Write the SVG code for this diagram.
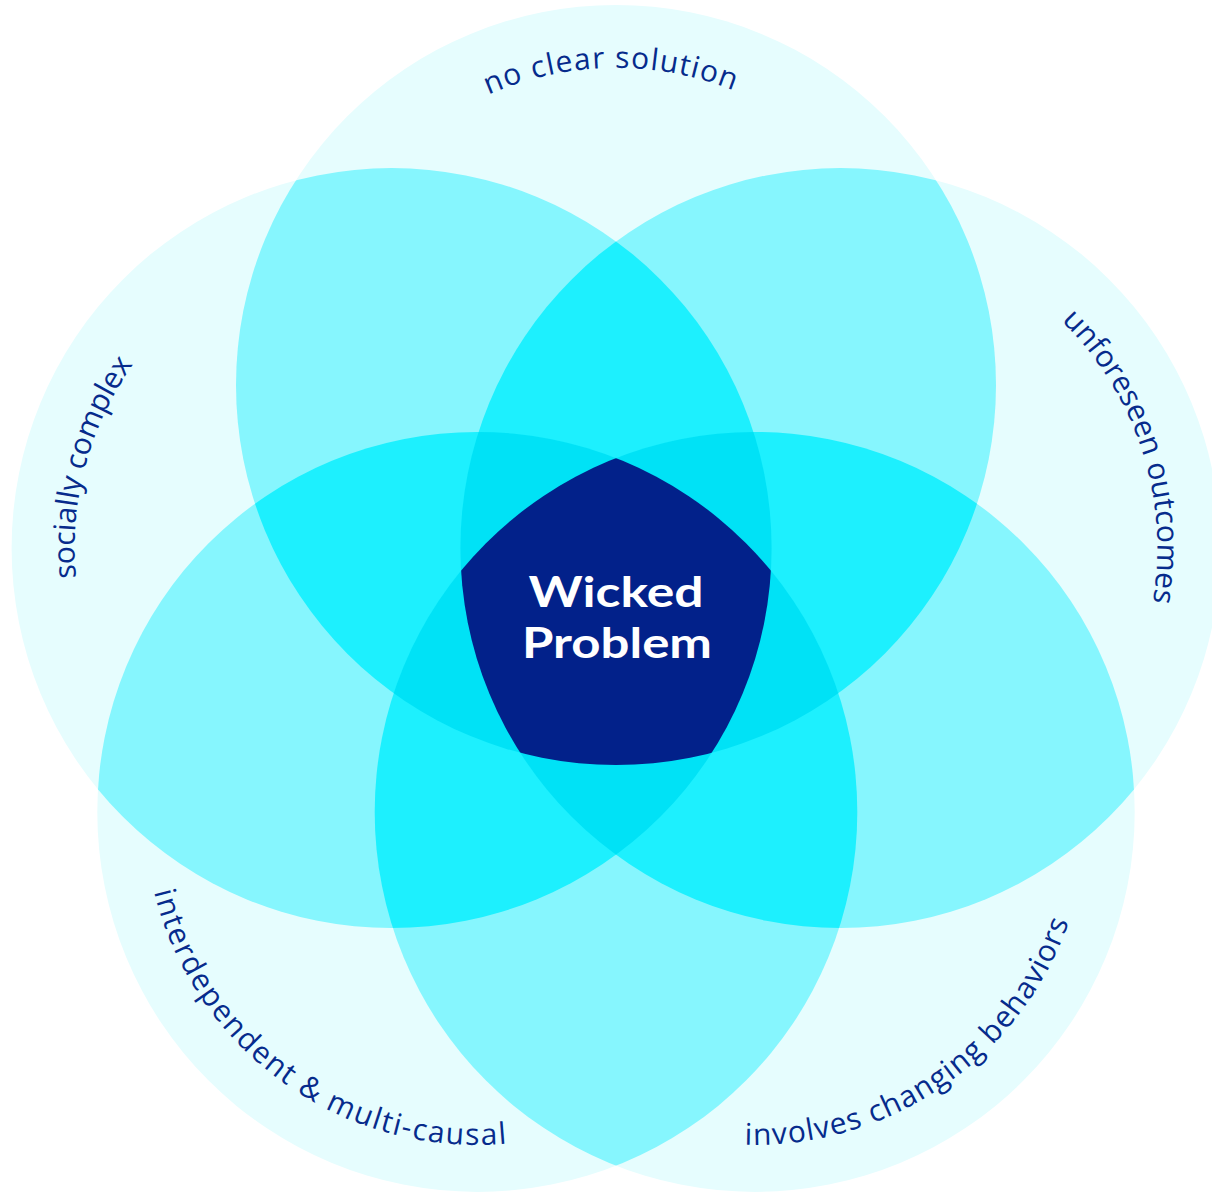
<svg xmlns="http://www.w3.org/2000/svg" width="1212" height="1192" viewBox="0 0 1212 1192">
<style>
.l1{fill:#e6fdfe}
.l2{fill:#86f6fe}
.l3{fill:#1df0fe}
.l4{fill:#00e2f6}
.l5{fill:#02218a}
.lbl{font-family:"Open Sans","Noto Sans","DejaVu Sans",sans-serif;font-size:30px;fill:#062b8c}
.ctr{font-family:Lato,"Open Sans","DejaVu Sans",sans-serif;font-size:42px;font-weight:700;fill:#ffffff;text-anchor:middle}
</style>
<defs>
<clipPath id="c0"><circle cx="616" cy="385" r="380"/></clipPath>
<clipPath id="c1"><circle cx="391.6" cy="548.1" r="380"/></clipPath>
<clipPath id="c2"><circle cx="840.4" cy="548.1" r="380"/></clipPath>
<clipPath id="c3"><circle cx="477.3" cy="811.9" r="380"/></clipPath>
<clipPath id="c4"><circle cx="754.7" cy="811.9" r="380"/></clipPath>
<path id="p0" d="M302.9,335.4 A317,317 0 0 1 927.2,324.5"/>
<path id="p1" d="M257.6,835.4 A317,317 0 0 1 419.2,232.3"/>
<path id="p2" d="M796.3,234.2 A317,317 0 0 1 989.2,828.0"/>
<path id="p3" d="M176.7,668.5 A333,333 0 0 0 710.7,1049.4"/>
<path id="p4" d="M517.2,1045.3 A333,333 0 0 0 1057.7,673.8"/>
</defs>
<rect width="1212" height="1192" fill="#ffffff"/>

<g id="circle-no-clear-solution"><circle class="l1" cx="616" cy="385" r="380"/></g>
<g id="circle-socially-complex"><circle class="l1" cx="391.6" cy="548.1" r="380"/></g>
<g id="circle-unforeseen-outcomes"><circle class="l1" cx="840.4" cy="548.1" r="380"/></g>
<g id="circle-interdependent"><circle class="l1" cx="477.3" cy="811.9" r="380"/></g>
<g id="circle-changing-behaviors"><circle class="l1" cx="754.7" cy="811.9" r="380"/></g>

<g id="overlaps-2">
<circle class="l2" cx="616" cy="385" r="380" clip-path="url(#c1)"/>
<circle class="l2" cx="616" cy="385" r="380" clip-path="url(#c2)"/>
<circle class="l2" cx="616" cy="385" r="380" clip-path="url(#c3)"/>
<circle class="l2" cx="616" cy="385" r="380" clip-path="url(#c4)"/>
<circle class="l2" cx="391.6" cy="548.1" r="380" clip-path="url(#c2)"/>
<circle class="l2" cx="391.6" cy="548.1" r="380" clip-path="url(#c3)"/>
<circle class="l2" cx="391.6" cy="548.1" r="380" clip-path="url(#c4)"/>
<circle class="l2" cx="840.4" cy="548.1" r="380" clip-path="url(#c3)"/>
<circle class="l2" cx="840.4" cy="548.1" r="380" clip-path="url(#c4)"/>
<circle class="l2" cx="477.3" cy="811.9" r="380" clip-path="url(#c4)"/>
</g>

<g id="overlaps-3">
<g clip-path="url(#c1)"><circle class="l3" cx="616" cy="385" r="380" clip-path="url(#c2)"/></g>
<g clip-path="url(#c1)"><circle class="l3" cx="616" cy="385" r="380" clip-path="url(#c3)"/></g>
<g clip-path="url(#c1)"><circle class="l3" cx="616" cy="385" r="380" clip-path="url(#c4)"/></g>
<g clip-path="url(#c2)"><circle class="l3" cx="616" cy="385" r="380" clip-path="url(#c3)"/></g>
<g clip-path="url(#c2)"><circle class="l3" cx="616" cy="385" r="380" clip-path="url(#c4)"/></g>
<g clip-path="url(#c3)"><circle class="l3" cx="616" cy="385" r="380" clip-path="url(#c4)"/></g>
<g clip-path="url(#c2)"><circle class="l3" cx="391.6" cy="548.1" r="380" clip-path="url(#c3)"/></g>
<g clip-path="url(#c2)"><circle class="l3" cx="391.6" cy="548.1" r="380" clip-path="url(#c4)"/></g>
<g clip-path="url(#c3)"><circle class="l3" cx="391.6" cy="548.1" r="380" clip-path="url(#c4)"/></g>
<g clip-path="url(#c3)"><circle class="l3" cx="840.4" cy="548.1" r="380" clip-path="url(#c4)"/></g>
</g>

<g id="overlaps-4">
<g clip-path="url(#c2)"><g clip-path="url(#c3)"><circle class="l4" cx="391.6" cy="548.1" r="380" clip-path="url(#c4)"/></g></g>
<g clip-path="url(#c2)"><g clip-path="url(#c3)"><circle class="l4" cx="616" cy="385" r="380" clip-path="url(#c4)"/></g></g>
<g clip-path="url(#c1)"><g clip-path="url(#c3)"><circle class="l4" cx="616" cy="385" r="380" clip-path="url(#c4)"/></g></g>
<g clip-path="url(#c1)"><g clip-path="url(#c2)"><circle class="l4" cx="616" cy="385" r="380" clip-path="url(#c4)"/></g></g>
<g clip-path="url(#c1)"><g clip-path="url(#c2)"><circle class="l4" cx="616" cy="385" r="380" clip-path="url(#c3)"/></g></g>
</g>

<g id="wicked-problem">
<g clip-path="url(#c1)"><g clip-path="url(#c2)"><g clip-path="url(#c3)"><circle class="l5" cx="616" cy="385" r="380" clip-path="url(#c4)"/></g></g></g>
<text class="ctr" x="616" y="607" textLength="175" lengthAdjust="spacingAndGlyphs">Wicked</text>
<text class="ctr" x="617" y="658" textLength="190" lengthAdjust="spacingAndGlyphs">Problem</text>
</g>

<g id="labels">
<text class="lbl" text-anchor="middle"><textPath href="#p0" startOffset="50%" textLength="252" lengthAdjust="spacing">no clear solution</textPath></text>
<text class="lbl" text-anchor="middle"><textPath href="#p1" startOffset="50%" textLength="226" lengthAdjust="spacing">socially complex</textPath></text>
<text class="lbl" text-anchor="middle"><textPath href="#p2" startOffset="50%" textLength="308" lengthAdjust="spacing">unforeseen outcomes</textPath></text>
<text class="lbl" text-anchor="middle"><textPath href="#p3" startOffset="50%" textLength="472" lengthAdjust="spacing">interdependent &amp; multi-causal</textPath></text>
<text class="lbl" text-anchor="middle"><textPath href="#p4" startOffset="50%" textLength="421" lengthAdjust="spacing">involves changing behaviors</textPath></text>
</g>
</svg>
